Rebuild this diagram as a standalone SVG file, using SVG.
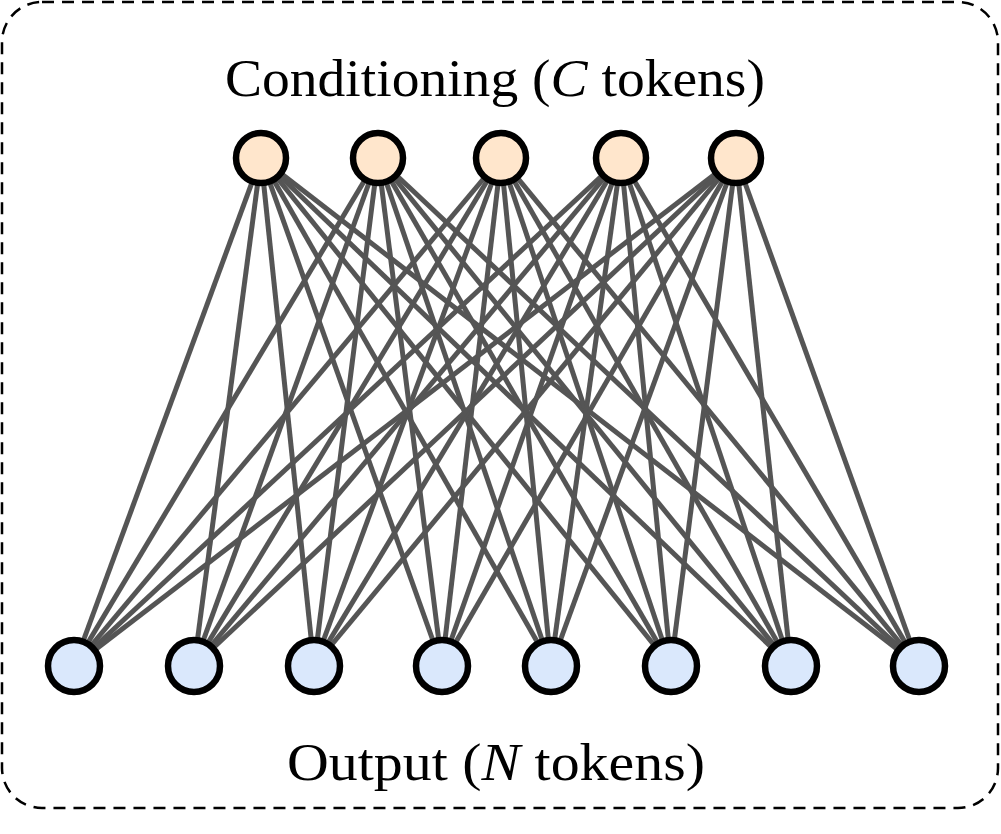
<svg xmlns="http://www.w3.org/2000/svg" width="1001" height="834" viewBox="0 0 1001 834">
<style>
.frame{fill:#fff;stroke:#000;stroke-width:2.5;stroke-dasharray:12 8}
.e line{stroke:#555;stroke-width:5}
.top{fill:#ffe6cc;stroke:#000;stroke-width:6.5}
.bot{fill:#dae8fc;stroke:#000;stroke-width:6.5}
.lbl{font-family:"Liberation Serif","DejaVu Serif",serif;font-size:53px;fill:#000;text-anchor:middle}
</style>
<rect class="frame" x="2" y="2" width="996" height="806" rx="40" ry="40"/>
<text class="lbl" x="495" y="96" textLength="540" lengthAdjust="spacingAndGlyphs">Conditioning (<tspan font-style="italic">C</tspan> tokens)</text>
<text class="lbl" x="496" y="780" textLength="418" lengthAdjust="spacingAndGlyphs">Output (<tspan font-style="italic">N</tspan> tokens)</text>
<g id="connectors" class="e">
<line x1="261" y1="158" x2="74" y2="666"/><line x1="261" y1="158" x2="194" y2="666"/><line x1="261" y1="158" x2="314" y2="666"/><line x1="261" y1="158" x2="442" y2="666"/><line x1="261" y1="158" x2="551" y2="666"/><line x1="261" y1="158" x2="671" y2="666"/><line x1="261" y1="158" x2="791" y2="666"/><line x1="261" y1="158" x2="919" y2="666"/>
<line x1="378" y1="158" x2="74" y2="666"/><line x1="378" y1="158" x2="194" y2="666"/><line x1="378" y1="158" x2="314" y2="666"/><line x1="378" y1="158" x2="442" y2="666"/><line x1="378" y1="158" x2="551" y2="666"/><line x1="378" y1="158" x2="671" y2="666"/><line x1="378" y1="158" x2="791" y2="666"/><line x1="378" y1="158" x2="919" y2="666"/>
<line x1="501" y1="158" x2="74" y2="666"/><line x1="501" y1="158" x2="194" y2="666"/><line x1="501" y1="158" x2="314" y2="666"/><line x1="501" y1="158" x2="442" y2="666"/><line x1="501" y1="158" x2="551" y2="666"/><line x1="501" y1="158" x2="671" y2="666"/><line x1="501" y1="158" x2="791" y2="666"/><line x1="501" y1="158" x2="919" y2="666"/>
<line x1="621" y1="158" x2="74" y2="666"/><line x1="621" y1="158" x2="194" y2="666"/><line x1="621" y1="158" x2="314" y2="666"/><line x1="621" y1="158" x2="442" y2="666"/><line x1="621" y1="158" x2="551" y2="666"/><line x1="621" y1="158" x2="671" y2="666"/><line x1="621" y1="158" x2="791" y2="666"/><line x1="621" y1="158" x2="919" y2="666"/>
<line x1="736" y1="158" x2="74" y2="666"/><line x1="736" y1="158" x2="194" y2="666"/><line x1="736" y1="158" x2="314" y2="666"/><line x1="736" y1="158" x2="442" y2="666"/><line x1="736" y1="158" x2="551" y2="666"/><line x1="736" y1="158" x2="671" y2="666"/><line x1="736" y1="158" x2="791" y2="666"/><line x1="736" y1="158" x2="919" y2="666"/>
</g>
<g id="c1"><circle class="top" cx="261" cy="158" r="25"/></g>
<g id="c2"><circle class="top" cx="378" cy="158" r="25"/></g>
<g id="c3"><circle class="top" cx="501" cy="158" r="25"/></g>
<g id="c4"><circle class="top" cx="621" cy="158" r="25"/></g>
<g id="c5"><circle class="top" cx="736" cy="158" r="25"/></g>
<g id="n1"><circle class="bot" cx="74" cy="666" r="26"/></g>
<g id="n2"><circle class="bot" cx="194" cy="666" r="26"/></g>
<g id="n3"><circle class="bot" cx="314" cy="666" r="26"/></g>
<g id="n4"><circle class="bot" cx="442" cy="666" r="26"/></g>
<g id="n5"><circle class="bot" cx="551" cy="666" r="26"/></g>
<g id="n6"><circle class="bot" cx="671" cy="666" r="26"/></g>
<g id="n7"><circle class="bot" cx="791" cy="666" r="26"/></g>
<g id="n8"><circle class="bot" cx="919" cy="666" r="26"/></g>
</svg>
